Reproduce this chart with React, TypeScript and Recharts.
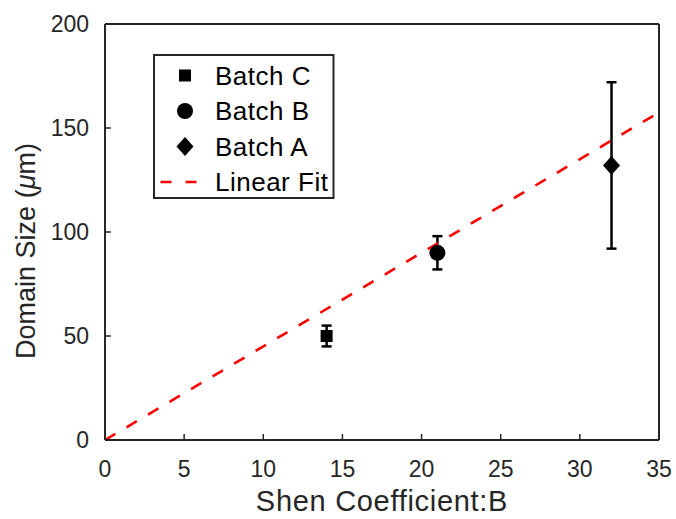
import React from 'react';
import { ComposedChart, Scatter, XAxis, YAxis, ErrorBar, ReferenceLine, Legend } from 'recharts';

const xTicks = [0, 5, 10, 15, 20, 25, 30, 35];
const yTicks = [0, 50, 100, 150, 200];
const batchC = [{ x: 14, y: 50, err: 5 }];
const batchB = [{ x: 21, y: 90, err: 8 }];
const batchA = [{ x: 32, y: 132, err: 40 }];
const fitStart = { x: 0, y: 0 };
const fitEnd = { x: 35, y: 157.5 };
const legendItems = [
  { name: 'Batch C', marker: 'square' },
  { name: 'Batch B', marker: 'circle' },
  { name: 'Batch A', marker: 'diamond' },
  { name: 'Linear Fit', marker: 'dash' },
];

const FONT = 'Arial, "Liberation Sans", Helvetica, sans-serif';
const AX = '#262626';
const RED = '#ff0000';

const SquareShape = (p: any) => (
  <rect x={p.cx - 6} y={p.cy - 6} width={12} height={12} fill="#000" />
);
const CircleShape = (p: any) => <circle cx={p.cx} cy={p.cy} r={8} fill="#000" />;
const DiamondShape = (p: any) => (
  <polygon
    points={`${p.cx},${p.cy - 9.5} ${p.cx + 8.5},${p.cy} ${p.cx},${p.cy + 9.5} ${p.cx - 8.5},${p.cy}`}
    fill="#000"
  />
);

const markerFor = (m: string, cx: number, cy: number) => {
  if (m === 'square') return <SquareShape cx={cx} cy={cy} />;
  if (m === 'circle') return <CircleShape cx={cx} cy={cy} />;
  if (m === 'diamond') return <DiamondShape cx={cx} cy={cy} />;
  return (
    <line x1={cx - 24.5} x2={cx + 12} y1={cy} y2={cy} stroke={RED} strokeWidth={2.6} strokeDasharray="11 14" />
  );
};

const LegendBox = () => (
  <svg width={184} height={148} style={{ display: 'block' }}>
    <rect x={2} y={2} width={179.5} height={143} fill="#fff" stroke={AX} strokeWidth={2} />
    {legendItems.map((it, i) => {
      const cy = 22.5 + i * 35.5;
      return (
        <g key={it.name}>
          {markerFor(it.marker, 33, cy)}
          <text x={63} y={cy + 9} fontSize={26} letterSpacing={0.5} fontFamily={FONT} fill="#000">
            {it.name}
          </text>
        </g>
      );
    })}
  </svg>
);

const YLabel = (props: any) => {
  const vb = props.viewBox || { x: 0, y: 0, width: 105, height: 416 };
  const x = vb.x + 35;
  const y = vb.y + vb.height / 2 + 19;
  return (
    <text
      x={x}
      y={y}
      transform={`rotate(-90, ${x}, ${y})`}
      textAnchor="middle"
      fontSize={27}
      fontFamily={FONT}
      fill={AX}
    >
      Domain Size (<tspan fontStyle="italic">μ</tspan>m)
    </text>
  );
};

const XLabel = (props: any) => {
  const vb = props.viewBox || { x: 105, y: 440, width: 554, height: 79 };
  const x = vb.x + vb.width / 2;
  const y = vb.y + vb.height - 8;
  return (
    <text x={x} y={y} textAnchor="middle" fontSize={29} letterSpacing={0.7} fontFamily={FONT} fill={AX}>
      Shen Coefficient:B
    </text>
  );
};

export default function App() {
  return (
    <div style={{ position: 'absolute', left: 0, top: 0, background: '#fff' }}>
      <ComposedChart
        width={676}
        height={519}
        margin={{ top: 23, right: 16, bottom: 0, left: 0 }}
      >
        <XAxis
          dataKey="x"
          type="number"
          domain={[0, 35]}
          ticks={xTicks}
          allowDataOverflow
          height={79}
          axisLine={{ stroke: AX, strokeWidth: 2 }}
          tickLine={{ stroke: AX, strokeWidth: 1.5 }}
          tickSize={-6}
          tickMargin={27}
          tick={{ fontSize: 23, fill: AX, fontFamily: FONT }}
          interval={0}
          label={{ content: (p: any) => <XLabel {...p} /> }}
        />
        <XAxis
          xAxisId="top"
          orientation="top"
          type="number"
          domain={[0, 35]}
          ticks={xTicks}
          allowDataOverflow
          height={1}
          axisLine={{ stroke: AX, strokeWidth: 2 }}
          tickLine={{ stroke: AX, strokeWidth: 1.5 }}
          tickSize={-6}
          tick={false}
          interval={0}
        />
        <YAxis
          dataKey="y"
          type="number"
          domain={[0, 200]}
          ticks={yTicks}
          allowDataOverflow
          width={105}
          axisLine={{ stroke: AX, strokeWidth: 2 }}
          tickLine={{ stroke: AX, strokeWidth: 1.5 }}
          tickSize={-6}
          tickMargin={22}
          tick={{ fontSize: 23, fill: AX, fontFamily: FONT }}
          interval={0}
          label={{ content: (p: any) => <YLabel {...p} /> }}
        />
        <YAxis
          yAxisId="right"
          orientation="right"
          type="number"
          domain={[0, 200]}
          ticks={yTicks}
          allowDataOverflow
          width={1}
          axisLine={{ stroke: AX, strokeWidth: 2 }}
          tickLine={{ stroke: AX, strokeWidth: 1.5 }}
          tickSize={-6}
          tick={false}
          interval={0}
        />
        <Scatter name="Batch C" data={batchC} dataKey="y" shape={SquareShape} isAnimationActive={false}>
          <ErrorBar dataKey="err" direction="y" width={5} stroke="#000" strokeWidth={2.5} isAnimationActive={false} />
        </Scatter>
        <Scatter name="Batch B" data={batchB} dataKey="y" shape={CircleShape} isAnimationActive={false}>
          <ErrorBar dataKey="err" direction="y" width={5} stroke="#000" strokeWidth={2.5} isAnimationActive={false} />
        </Scatter>
        <Scatter name="Batch A" data={batchA} dataKey="y" shape={DiamondShape} isAnimationActive={false}>
          <ErrorBar dataKey="err" direction="y" width={5} stroke="#000" strokeWidth={2.5} isAnimationActive={false} />
        </Scatter>
        <ReferenceLine
          segment={[fitStart, fitEnd]}
          stroke={RED}
          strokeWidth={2.6}
          strokeDasharray="12 13"
          ifOverflow="visible"
        />
        <Legend
          layout="vertical"
          align="center"
          verticalAlign="middle"
          content={() => <LegendBox />}
          wrapperStyle={{ position: 'absolute', left: 152, top: 53, width: 184, height: 148 }}
        />
      </ComposedChart>
    </div>
  );
}
